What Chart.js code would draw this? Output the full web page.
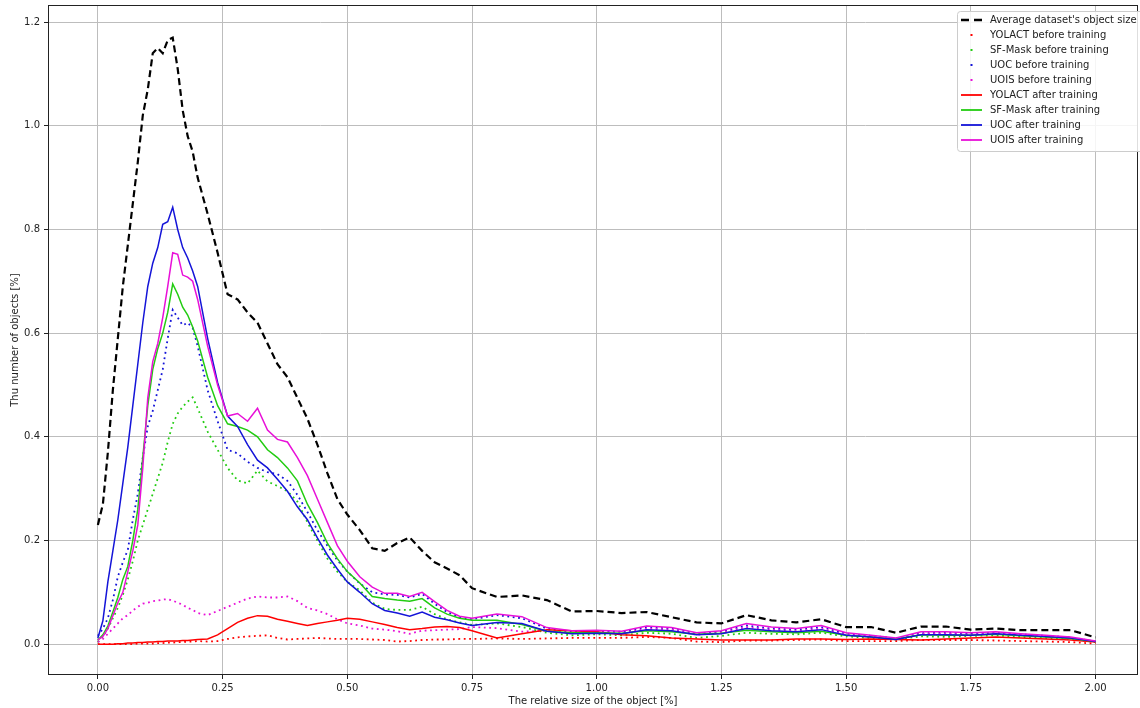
<!DOCTYPE html>
<html>
<head>
<meta charset="utf-8">
<script src="https://cdn.jsdelivr.net/npm/chart.js@4.4.1/dist/chart.umd.min.js"></script>
<style>
  html, body { margin: 0; padding: 0; background: #fff; }
  #wrap { width: 1140px; height: 708px; }
</style>
</head>
<body>
<div id="wrap"><canvas id="sizeChart" width="1140" height="708"></canvas></div>
<script>
// relative object size [%] (x positions of the samples)
var sizes = [0, 0.01, 0.02, 0.03, 0.04, 0.05, 0.06, 0.07, 0.08, 0.09, 0.10, 0.11, 0.12, 0.13, 0.14, 0.15, 0.16, 0.17, 0.18, 0.19, 0.20,
    0.22, 0.24, 0.26, 0.28, 0.30, 0.32, 0.34, 0.36, 0.38, 0.40, 0.42, 0.44, 0.46, 0.48, 0.50,
    0.525, 0.55, 0.575, 0.60, 0.625, 0.65, 0.675, 0.70, 0.725, 0.75,
    0.80, 0.85, 0.90, 0.95, 1.00,
    1.05, 1.10, 1.15, 1.20, 1.25, 1.30, 1.35, 1.40, 1.45, 1.50, 1.55, 1.60, 1.65, 1.70, 1.75, 1.80, 1.85, 1.90, 1.95, 2.00];

var avgSize = [0.23, 0.27, 0.37, 0.49, 0.59, 0.69, 0.77, 0.85, 0.93, 1.02, 1.07, 1.14, 1.15, 1.14, 1.165, 1.17, 1.11, 1.03, 0.98, 0.95, 0.90,
    0.83, 0.755, 0.675, 0.665, 0.64, 0.62, 0.58, 0.54, 0.515, 0.475, 0.435, 0.385, 0.33, 0.28, 0.25,
    0.22, 0.185, 0.18, 0.195, 0.206, 0.18, 0.158, 0.146, 0.133, 0.108,
    0.091, 0.094, 0.085, 0.063, 0.064,
    0.06, 0.062, 0.052, 0.042, 0.04, 0.056, 0.046, 0.042, 0.048, 0.033, 0.033, 0.022, 0.034, 0.034, 0.028, 0.03, 0.027, 0.027, 0.027, 0.013];

var yolactBefore = [0, 0, 0, 0, 0, 0, 0, 0, 0.001, 0.001, 0.001, 0.001, 0.002, 0.002, 0.003, 0.003, 0.004, 0.004, 0.005, 0.005, 0.006,
    0.005, 0.006, 0.01, 0.013, 0.015, 0.016, 0.017, 0.012, 0.009, 0.01, 0.011, 0.012, 0.011, 0.01, 0.01,
    0.01, 0.009, 0.008, 0.005, 0.006, 0.008, 0.009, 0.009, 0.01, 0.01,
    0.011, 0.01, 0.011, 0.012, 0.012,
    0.012, 0.014, 0.012, 0.005, 0.004, 0.007, 0.007, 0.008, 0.009, 0.006, 0.006, 0.006, 0.008, 0.008, 0.008, 0.007, 0.006, 0.005, 0.004, 0.001];

var sfMaskBefore = [0.004, 0.015, 0.03, 0.05, 0.07, 0.095, 0.125, 0.16, 0.2, 0.23, 0.26, 0.29, 0.32, 0.35, 0.39, 0.425, 0.445, 0.458, 0.468, 0.476, 0.455,
    0.41, 0.375, 0.34, 0.316, 0.31, 0.335, 0.314, 0.305, 0.295, 0.275, 0.235, 0.2, 0.165, 0.14, 0.12,
    0.104, 0.08, 0.068, 0.066, 0.066, 0.072, 0.058, 0.048, 0.042, 0.037,
    0.04, 0.033, 0.022, 0.017, 0.019,
    0.017, 0.022, 0.02, 0.012, 0.016, 0.022, 0.02, 0.019, 0.022, 0.015, 0.012, 0.009, 0.015, 0.014, 0.016, 0.017, 0.014, 0.012, 0.01, 0.004];

var uocBefore = [0.016, 0.03, 0.05, 0.085, 0.13, 0.158, 0.182, 0.24, 0.29, 0.36, 0.42, 0.45, 0.49, 0.53, 0.59, 0.645, 0.63, 0.615, 0.62, 0.61, 0.575,
    0.49, 0.43, 0.375, 0.368, 0.352, 0.34, 0.332, 0.328, 0.315, 0.288, 0.255, 0.22, 0.19, 0.162, 0.14,
    0.117, 0.1, 0.096, 0.095, 0.09, 0.097, 0.078, 0.062, 0.052, 0.048,
    0.056, 0.05, 0.03, 0.024, 0.025,
    0.024, 0.033, 0.03, 0.02, 0.024, 0.036, 0.03, 0.028, 0.033, 0.02, 0.016, 0.011, 0.021, 0.022, 0.02, 0.022, 0.019, 0.016, 0.013, 0.005];

var uoisBefore = [0.004, 0.01, 0.02, 0.03, 0.04, 0.05, 0.056, 0.065, 0.072, 0.078, 0.08, 0.083, 0.084, 0.086, 0.087, 0.084, 0.08, 0.076, 0.07, 0.066, 0.06,
    0.056, 0.064, 0.072, 0.08, 0.088, 0.092, 0.09, 0.09, 0.092, 0.083, 0.07, 0.065, 0.058, 0.048, 0.04,
    0.036, 0.03, 0.028, 0.025, 0.02, 0.026, 0.027, 0.028, 0.029, 0.033,
    0.031, 0.024, 0.026, 0.022, 0.024,
    0.021, 0.03, 0.028, 0.018, 0.022, 0.033, 0.028, 0.025, 0.03, 0.018, 0.015, 0.01, 0.02, 0.02, 0.018, 0.021, 0.018, 0.015, 0.012, 0.005];

var yolactAfter = [0, 0, 0, 0, 0.001, 0.001, 0.002, 0.002, 0.003, 0.003, 0.004, 0.004, 0.005, 0.005, 0.006, 0.006, 0.006, 0.007, 0.007, 0.008, 0.009,
    0.01, 0.018, 0.03, 0.042, 0.05, 0.055, 0.054, 0.048, 0.044, 0.04, 0.036, 0.04, 0.043, 0.046, 0.05,
    0.048, 0.043, 0.038, 0.032, 0.028, 0.03, 0.033, 0.034, 0.032, 0.026,
    0.012, 0.02, 0.028, 0.026, 0.024,
    0.018, 0.016, 0.012, 0.01, 0.008, 0.008, 0.008, 0.01, 0.01, 0.009, 0.01, 0.009, 0.008, 0.01, 0.012, 0.014, 0.012, 0.01, 0.008, 0.004];

var sfMaskAfter = [0.008, 0.018, 0.035, 0.062, 0.09, 0.125, 0.15, 0.2, 0.26, 0.36, 0.46, 0.53, 0.57, 0.60, 0.64, 0.695, 0.675, 0.65, 0.635, 0.612, 0.585,
    0.515, 0.46, 0.425, 0.42, 0.413, 0.40, 0.375, 0.36, 0.34, 0.315, 0.27, 0.235, 0.195, 0.165, 0.14,
    0.118, 0.092, 0.088, 0.085, 0.083, 0.088, 0.07, 0.058, 0.05, 0.046,
    0.046, 0.038, 0.025, 0.022, 0.022,
    0.021, 0.026, 0.024, 0.019, 0.021, 0.027, 0.024, 0.022, 0.025, 0.017, 0.014, 0.01, 0.018, 0.017, 0.017, 0.019, 0.016, 0.014, 0.011, 0.005];

var uocAfter = [0.012, 0.045, 0.12, 0.18, 0.24, 0.31, 0.38, 0.46, 0.54, 0.62, 0.69, 0.735, 0.765, 0.81, 0.815, 0.843, 0.80, 0.765, 0.745, 0.72, 0.69,
    0.59, 0.505, 0.44, 0.42, 0.385, 0.355, 0.34, 0.318, 0.295, 0.265, 0.24, 0.205, 0.172, 0.145, 0.12,
    0.1, 0.078, 0.065, 0.06, 0.054, 0.062, 0.052, 0.047, 0.041, 0.036,
    0.042, 0.04, 0.025, 0.02, 0.021,
    0.02, 0.028, 0.026, 0.018, 0.02, 0.03, 0.026, 0.024, 0.028, 0.017, 0.014, 0.009, 0.018, 0.018, 0.017, 0.02, 0.017, 0.015, 0.012, 0.005];

var uoisAfter = [0.008, 0.015, 0.03, 0.055, 0.08, 0.10, 0.14, 0.18, 0.23, 0.34, 0.475, 0.545, 0.58, 0.63, 0.69, 0.755, 0.752, 0.712, 0.708, 0.70, 0.665,
    0.575, 0.50, 0.44, 0.445, 0.43, 0.455, 0.413, 0.395, 0.39, 0.36, 0.325, 0.28, 0.235, 0.19, 0.16,
    0.13, 0.11, 0.098, 0.098, 0.092, 0.1, 0.082, 0.065, 0.054, 0.05,
    0.058, 0.053, 0.032, 0.026, 0.027,
    0.025, 0.035, 0.032, 0.022, 0.026, 0.04, 0.033, 0.03, 0.036, 0.022, 0.017, 0.012, 0.024, 0.024, 0.022, 0.024, 0.02, 0.017, 0.014, 0.006];

var xTicks = [0, 0.25, 0.5, 0.75, 1.0, 1.25, 1.5, 1.75, 2.0];
var yTicks = [0, 0.2, 0.4, 0.6, 0.8, 1.0, 1.2];

// pair the x samples with one series
function toPoints(values) {
    return sizes.map(function (s, i) { return { x: s, y: values[i] }; });
}

var DASHED = [7, 4];
var DOTTED = [1.8, 3.6];

var seriesList = [
    { label: "Average dataset's object size", values: avgSize, color: '#000000', dash: DASHED, width: 2.2 },
    { label: 'YOLACT before training', values: yolactBefore, color: '#ff0000', dash: DOTTED, width: 1.8 },
    { label: 'SF-Mask before training', values: sfMaskBefore, color: '#22cc11', dash: DOTTED, width: 1.8 },
    { label: 'UOC before training', values: uocBefore, color: '#1414d8', dash: DOTTED, width: 1.8 },
    { label: 'UOIS before training', values: uoisBefore, color: '#e810d8', dash: DOTTED, width: 1.8 },
    { label: 'YOLACT after training', values: yolactAfter, color: '#ff0000', dash: [], width: 1.5 },
    { label: 'SF-Mask after training', values: sfMaskAfter, color: '#22cc11', dash: [], width: 1.5 },
    { label: 'UOC after training', values: uocAfter, color: '#1414d8', dash: [], width: 1.5 },
    { label: 'UOIS after training', values: uoisAfter, color: '#e810d8', dash: [], width: 1.5 }
];

var datasets = seriesList.map(function (s, i) {
    return {
        label: s.label,
        data: toPoints(s.values),
        borderColor: s.color,
        backgroundColor: s.color,
        borderDash: s.dash,
        borderWidth: s.width,
        pointRadius: 0,
        tension: 0,
        fill: false,
        order: seriesList.length - i   // later series drawn on top, like matplotlib
    };
});

// frame round the plot area (all four spines)
var framePlugin = {
    id: 'frame',
    afterDatasetsDraw: function (chart) {
        var a = chart.chartArea, ctx = chart.ctx;
        ctx.save();
        ctx.strokeStyle = '#222';
        ctx.lineWidth = 1;
        ctx.strokeRect(a.left + 0.5, a.top + 0.5, a.right - a.left - 1, a.bottom - a.top - 1);
        ctx.restore();
    }
};

// legend box in the upper right corner
var legendPlugin = {
    id: 'cornerLegend',
    afterDraw: function (chart) {
        var ctx = chart.ctx;
        var boxX = 957, boxY = 11, boxW = 186, boxH = 140;
        ctx.save();
        ctx.fillStyle = 'rgba(255,255,255,0.85)';
        ctx.strokeStyle = '#cccccc';
        ctx.lineWidth = 1;
        ctx.beginPath();
        ctx.roundRect(boxX + 0.5, boxY + 0.5, boxW, boxH, 3);
        ctx.fill();
        ctx.stroke();

        ctx.font = '10px "DejaVu Sans"';
        ctx.textBaseline = 'middle';
        chart.data.datasets.forEach(function (ds, i) {
            var y = 20 + i * 15;
            ctx.strokeStyle = ds.borderColor;
            ctx.fillStyle = ds.borderColor;
            if (ds.borderDash === DASHED) {
                ctx.lineWidth = 2.4;
                ctx.beginPath();
                ctx.moveTo(961, y); ctx.lineTo(969, y);
                ctx.moveTo(974, y); ctx.lineTo(982, y);
                ctx.stroke();
            } else if (ds.borderDash === DOTTED) {
                ctx.fillRect(970.5, y - 1, 2, 2);
            } else {
                ctx.lineWidth = 1.8;
                ctx.beginPath();
                ctx.moveTo(961, y); ctx.lineTo(982, y);
                ctx.stroke();
            }
            ctx.fillStyle = '#222';
            ctx.fillText(ds.label, 990, y);
        });
        ctx.restore();
    }
};

Chart.defaults.font.family = '"DejaVu Sans", sans-serif';
Chart.defaults.font.size = 10;
Chart.defaults.color = '#222';

var ctx = document.getElementById('sizeChart').getContext('2d');
var sizeChart = new Chart(ctx, {
    type: 'line',
    data: { datasets: datasets },
    options: {
        responsive: false,
        animation: false,
        devicePixelRatio: 1,
        layout: { padding: { left: 0, right: 2, top: 5, bottom: 0 } },
        plugins: {
            legend: { display: false },
            tooltip: { enabled: false }
        },
        scales: {
            x: {
                type: 'linear',
                min: -0.1,
                max: 2.085,
                afterBuildTicks: function (scale) {
                    scale.ticks = xTicks.map(function (v) { return { value: v }; });
                },
                afterFit: function (scale) { scale.height = 33; },
                ticks: {
                    padding: 3,
                    maxRotation: 0,
                    autoSkip: false,
                    callback: function (v) { return Number(v).toFixed(2); }
                },
                grid: { color: '#bdbdbd', lineWidth: 1, tickLength: 4, tickColor: '#222' },
                border: { display: false },
                title: {
                    display: true,
                    text: 'The relative size of the object [%]',
                    padding: { top: 0, bottom: 1 },
                    font: { size: 10 }
                }
            },
            y: {
                type: 'linear',
                min: -0.0595,
                max: 1.233,
                afterBuildTicks: function (scale) {
                    scale.ticks = yTicks.map(function (v) { return { value: v }; });
                },
                afterFit: function (scale) {
                    // fixed axis width, and no extra room asked for the end labels
                    scale.width = 48;
                    scale.paddingTop = 0;
                    scale.paddingBottom = 0;
                },
                ticks: {
                    padding: 4,
                    autoSkip: false,
                    callback: function (v) { return Number(v).toFixed(1); }
                },
                grid: { color: '#bdbdbd', lineWidth: 1, tickLength: 4, tickColor: '#222' },
                border: { display: false },
                title: {
                    display: true,
                    text: 'Thu number of objects [%]',
                    padding: { top: 9, bottom: 0 },
                    font: { size: 10 }
                }
            }
        }
    },
    plugins: [framePlugin, legendPlugin]
});
</script>
</body>
</html>
